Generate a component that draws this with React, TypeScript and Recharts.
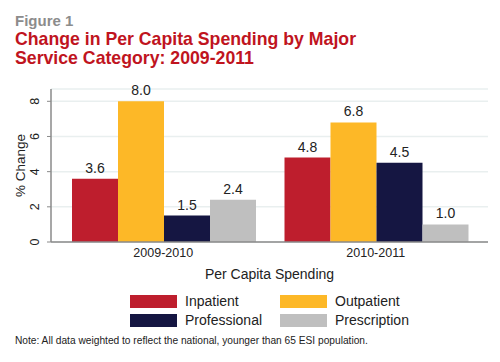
import { BarChart, Bar, XAxis, YAxis, CartesianGrid, LabelList } from 'recharts';

const categories = ['2009-2010', '2010-2011'];
const inpatient = [3.6, 4.8];
const outpatient = [8.0, 6.8];
const professional = [1.5, 4.5];
const prescription = [2.4, 1.0];
const yTicks = [0, 2, 4, 6, 8];

const series = [
    { key: 'inpatient', name: 'Inpatient', color: '#be1e2d' },
    { key: 'outpatient', name: 'Outpatient', color: '#fdb827' },
    { key: 'professional', name: 'Professional', color: '#151642' },
    { key: 'prescription', name: 'Prescription', color: '#bfbfbf' },
];

const data = categories.map((name, i) => ({
    name,
    inpatient: inpatient[i],
    outpatient: outpatient[i],
    professional: professional[i],
    prescription: prescription[i],
}));

const FONT = '"Liberation Sans", Arial, sans-serif';

function YTick({ y, payload }: any) {
    return (
        <text x={39} y={y} transform={`rotate(-90, 39, ${y})`} textAnchor="middle" fontSize={12.5} fill="#222">
            {payload.value}
        </text>
    );
}

function LegendItem({ color, label, x, y }: { color: string; label: string; x: number; y: number }) {
    return (
        <div style={{ position: 'absolute', left: x, top: y, display: 'flex', alignItems: 'center' }}>
            <div style={{ width: 47, height: 13, background: color, marginRight: 8 }} />
            <span style={{ fontSize: 14, color: '#222', lineHeight: '16px' }}>{label}</span>
        </div>
    );
}

export default function App() {
    return (
        <div style={{ position: 'absolute', left: 0, top: 0, width: 500, height: 362, background: '#fff', fontFamily: FONT }}>
            <div style={{ position: 'absolute', left: 15, top: 12, fontSize: 15, fontWeight: 'bold', color: '#8c8c8c' }}>
                Figure 1
            </div>
            <div style={{ position: 'absolute', left: 15, top: 30, fontSize: 17.7, fontWeight: 'bold', color: '#c0141e', lineHeight: '19px' }}>
                Change in Per Capita Spending by Major
                <br />
                Service Category: 2009-2011
            </div>

            <div style={{ position: 'absolute', left: 0, top: 80 }}>
                <BarChart
                    width={500}
                    height={204}
                    data={data}
                    margin={{ top: 9, right: 12, left: 0, bottom: 0 }}
                    barGap={0}
                    barCategoryGap={15}
                >
                    <CartesianGrid vertical={false} stroke="#e9efef" strokeWidth={1.5} />
                    <XAxis
                        dataKey="name"
                        height={42}
                        padding={{ left: 6, right: 6 }}
                        tickLine={false}
                        tickSize={4}
                        axisLine={{ stroke: '#8a8a8a', strokeWidth: 1.5 }}
                        tick={{ fontSize: 12.5, fill: '#222' }}
                        label={{ value: 'Per Capita Spending', position: 'insideBottom', offset: 5, fontSize: 14, fill: '#222' }}
                    />
                    <YAxis
                        width={51}
                        domain={[0, 8.7]}
                        ticks={yTicks}
                        tick={<YTick />}
                        tickSize={4}
                        tickLine={{ stroke: '#8a8a8a' }}
                        axisLine={{ stroke: '#8a8a8a', strokeWidth: 1.5 }}
                        label={{
                            content: ({ viewBox }: any) => {
                                const cy = viewBox.y + viewBox.height / 2;
                                return (
                                    <text x={25} y={cy} transform={`rotate(-90, 25, ${cy})`} textAnchor="middle" fontSize={13.5} fill="#222">
                                        % Change
                                    </text>
                                );
                            },
                        }}
                    />
                    {series.map((s) => (
                        <Bar key={s.key} dataKey={s.key} name={s.name} fill={s.color} isAnimationActive={false}>
                            <LabelList
                                dataKey={s.key}
                                position="top"
                                offset={6}
                                fontSize={14}
                                fill="#222"
                                formatter={(v: any) => Number(v).toFixed(1)}
                            />
                        </Bar>
                    ))}
                </BarChart>
            </div>

            <LegendItem color={series[0].color} label="Inpatient" x={130} y={293} />
            <LegendItem color={series[1].color} label="Outpatient" x={280} y={293} />
            <LegendItem color={series[2].color} label="Professional" x={130} y={312} />
            <LegendItem color={series[3].color} label="Prescription" x={280} y={312} />

            <div style={{ position: 'absolute', left: 15, top: 335, fontSize: 10.2, color: '#222' }}>
                Note: All data weighted to reflect the national, younger than 65 ESI population.
            </div>
        </div>
    );
}
